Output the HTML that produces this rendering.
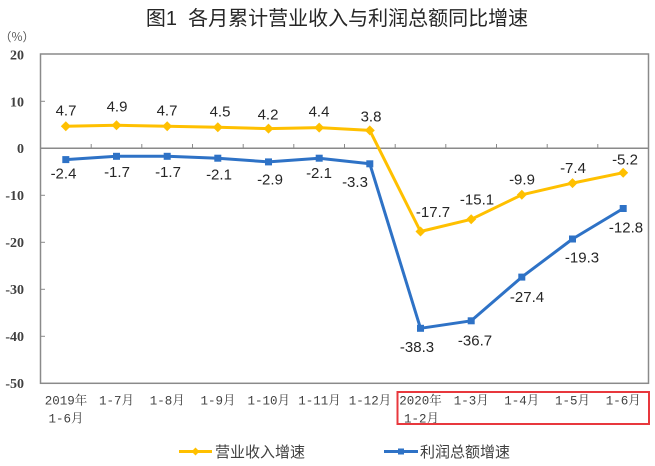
<!DOCTYPE html>
<html>
<head>
<meta charset="utf-8">
<style>
  html,body{margin:0;padding:0;background:#fff;}
  svg{display:block;}
  .num{font-family:"Liberation Sans",Arial,sans-serif;font-size:15px;fill:#262626;text-anchor:middle;}
  .yt{font-family:"Liberation Serif","Noto Serif CJK SC",serif;font-size:14px;font-weight:bold;fill:#404040;text-anchor:end;}
  .xt{font-family:"Liberation Mono","Noto Serif CJK SC",monospace;font-size:12.5px;fill:#404040;text-anchor:middle;}
  .cjk{font-family:"Liberation Sans","Noto Sans CJK SC",sans-serif;}
</style>
</head>
<body>
<svg width="655" height="466" viewBox="0 0 655 466" xmlns="http://www.w3.org/2000/svg">
  <!-- Title -->
  <text x="337" y="25" class="cjk" font-size="20" fill="#262626" text-anchor="middle" xml:space="preserve">图1  各月累计营业收入与利润总额同比增速</text>
  <!-- unit -->
  <text x="17" y="41" font-family="Noto Sans CJK SC, sans-serif" font-size="12" fill="#555" text-anchor="middle">（%）</text>

  <!-- Y tick labels -->
  <text class="yt" x="24" y="59.5">20</text>
  <text class="yt" x="24" y="106.5">10</text>
  <text class="yt" x="24" y="153">0</text>
  <text class="yt" x="24" y="200">-10</text>
  <text class="yt" x="24" y="247">-20</text>
  <text class="yt" x="24" y="294">-30</text>
  <text class="yt" x="24" y="341">-40</text>
  <text class="yt" x="24" y="388">-50</text>

  <!-- Plot frame -->
  <rect x="40.5" y="54" width="608" height="329.3" fill="none" stroke="#8a8a8a" stroke-width="1.5"/>
  <!-- zero line -->
  <line x1="40.5" y1="148.3" x2="648.5" y2="148.3" stroke="#8a8a8a" stroke-width="1.5"/>
  <!-- left ticks -->
  <g stroke="#8a8a8a" stroke-width="1">
    <line x1="40.5" y1="101.3" x2="45" y2="101.3"/>
    <line x1="40.5" y1="195.3" x2="45" y2="195.3"/>
    <line x1="40.5" y1="242.3" x2="45" y2="242.3"/>
    <line x1="40.5" y1="289.3" x2="45" y2="289.3"/>
    <line x1="40.5" y1="336.3" x2="45" y2="336.3"/>
  </g>
  <!-- x ticks on zero line -->
  <g stroke="#8a8a8a" stroke-width="1">
    <line x1="91.2" y1="148.3" x2="91.2" y2="144"/>
    <line x1="141.8" y1="148.3" x2="141.8" y2="144"/>
    <line x1="192.5" y1="148.3" x2="192.5" y2="144"/>
    <line x1="243.2" y1="148.3" x2="243.2" y2="144"/>
    <line x1="293.8" y1="148.3" x2="293.8" y2="144"/>
    <line x1="344.5" y1="148.3" x2="344.5" y2="144"/>
    <line x1="395.2" y1="148.3" x2="395.2" y2="144"/>
    <line x1="445.8" y1="148.3" x2="445.8" y2="144"/>
    <line x1="496.5" y1="148.3" x2="496.5" y2="144"/>
    <line x1="547.2" y1="148.3" x2="547.2" y2="144"/>
    <line x1="597.8" y1="148.3" x2="597.8" y2="144"/>
  </g>

  <!-- Revenue series (yellow) -->
  <polyline fill="none" stroke="#ffc000" stroke-width="3" stroke-linejoin="round"
    points="65.8,126.2 116.5,125.3 167.2,126.2 217.8,127.2 268.5,128.6 319.2,127.6 369.8,130.4 420.5,231.5 471.2,219.3 521.8,194.8 572.5,183.1 623.2,172.7"/>
  <g fill="#ffc000">
    <polygon points="65.8,121.2 70.8,126.2 65.8,131.2 60.8,126.2"/>
    <polygon points="116.5,120.3 121.5,125.3 116.5,130.3 111.5,125.3"/>
    <polygon points="167.2,121.2 172.2,126.2 167.2,131.2 162.2,126.2"/>
    <polygon points="217.8,122.2 222.8,127.2 217.8,132.2 212.8,127.2"/>
    <polygon points="268.5,123.6 273.5,128.6 268.5,133.6 263.5,128.6"/>
    <polygon points="319.2,122.6 324.2,127.6 319.2,132.6 314.2,127.6"/>
    <polygon points="369.8,125.4 374.8,130.4 369.8,135.4 364.8,130.4"/>
    <polygon points="420.5,226.5 425.5,231.5 420.5,236.5 415.5,231.5"/>
    <polygon points="471.2,214.3 476.2,219.3 471.2,224.3 466.2,219.3"/>
    <polygon points="521.8,189.8 526.8,194.8 521.8,199.8 516.8,194.8"/>
    <polygon points="572.5,178.1 577.5,183.1 572.5,188.1 567.5,183.1"/>
    <polygon points="623.2,167.7 628.2,172.7 623.2,177.7 618.2,172.7"/>
  </g>

  <!-- Profit series (blue) -->
  <polyline fill="none" stroke="#2e72c6" stroke-width="3" stroke-linejoin="round"
    points="65.8,159.6 116.5,156.3 167.2,156.3 217.8,158.2 268.5,161.9 319.2,158.2 369.8,163.8 420.5,328.3 471.2,320.8 521.8,277.1 572.5,239.0 623.2,208.5"/>
  <g fill="#2e72c6">
    <rect x="62.3" y="156.1" width="7" height="7"/>
    <rect x="113" y="152.8" width="7" height="7"/>
    <rect x="163.7" y="152.8" width="7" height="7"/>
    <rect x="214.3" y="154.7" width="7" height="7"/>
    <rect x="265" y="158.4" width="7" height="7"/>
    <rect x="315.7" y="154.7" width="7" height="7"/>
    <rect x="366.3" y="160.3" width="7" height="7"/>
    <rect x="417" y="324.8" width="7" height="7"/>
    <rect x="467.7" y="317.3" width="7" height="7"/>
    <rect x="518.3" y="273.6" width="7" height="7"/>
    <rect x="569" y="235.5" width="7" height="7"/>
    <rect x="619.7" y="205" width="7" height="7"/>
  </g>

  <!-- Revenue labels -->
  <text class="num" x="66" y="115.5">4.7</text>
  <text class="num" x="117" y="111.5">4.9</text>
  <text class="num" x="167" y="115.5">4.7</text>
  <text class="num" x="220" y="116.5">4.5</text>
  <text class="num" x="268" y="119.5">4.2</text>
  <text class="num" x="319" y="116.5">4.4</text>
  <text class="num" x="371" y="121.5">3.8</text>
  <text class="num" x="433" y="217">-17.7</text>
  <text class="num" x="477" y="204.5">-15.1</text>
  <text class="num" x="522" y="184.5">-9.9</text>
  <text class="num" x="573" y="173">-7.4</text>
  <text class="num" x="625" y="164.5">-5.2</text>

  <!-- Profit labels -->
  <text class="num" x="63.5" y="178.5">-2.4</text>
  <text class="num" x="117" y="177">-1.7</text>
  <text class="num" x="168" y="177">-1.7</text>
  <text class="num" x="219" y="179.5">-2.1</text>
  <text class="num" x="270" y="184.5">-2.9</text>
  <text class="num" x="319" y="178">-2.1</text>
  <text class="num" x="355" y="187">-3.3</text>
  <text class="num" x="417" y="352">-38.3</text>
  <text class="num" x="475" y="345.5">-36.7</text>
  <text class="num" x="527" y="302">-27.4</text>
  <text class="num" x="582" y="262.5">-19.3</text>
  <text class="num" x="626" y="232.5">-12.8</text>

  <!-- X labels -->
  <text class="xt" x="66" y="404.5">2019年</text>
  <text class="xt" x="66" y="422.5">1-6月</text>
  <text class="xt" x="116.5" y="404.5">1-7月</text>
  <text class="xt" x="167.2" y="404.5">1-8月</text>
  <text class="xt" x="218" y="404.5">1-9月</text>
  <text class="xt" x="268.8" y="404.5">1-10月</text>
  <text class="xt" x="319.5" y="404.5">1-11月</text>
  <text class="xt" x="370" y="404.5">1-12月</text>
  <text class="xt" x="420.5" y="404.5">2020年</text>
  <text class="xt" x="421.5" y="422.5">1-2月</text>
  <text class="xt" x="471.2" y="404.5">1-3月</text>
  <text class="xt" x="521.8" y="404.5">1-4月</text>
  <text class="xt" x="572.5" y="404.5">1-5月</text>
  <text class="xt" x="623.2" y="404.5">1-6月</text>

  <!-- Red highlight box -->
  <rect x="397.5" y="392" width="251.5" height="32" fill="none" stroke="#e8383d" stroke-width="2"/>

  <!-- Legend -->
  <line x1="179" y1="451.5" x2="212" y2="451.5" stroke="#ffc000" stroke-width="3"/>
  <polygon points="195.5,447.5 199.5,451.5 195.5,455.5 191.5,451.5" fill="#ffc000"/>
  <text x="215" y="457" class="cjk" font-size="15" fill="#404040">营业收入增速</text>

  <line x1="384" y1="451.5" x2="418" y2="451.5" stroke="#2e72c6" stroke-width="3"/>
  <rect x="398" y="448.5" width="6" height="6" fill="#2e72c6"/>
  <text x="420" y="457" class="cjk" font-size="15" fill="#404040">利润总额增速</text>
</svg>
</body>
</html>
